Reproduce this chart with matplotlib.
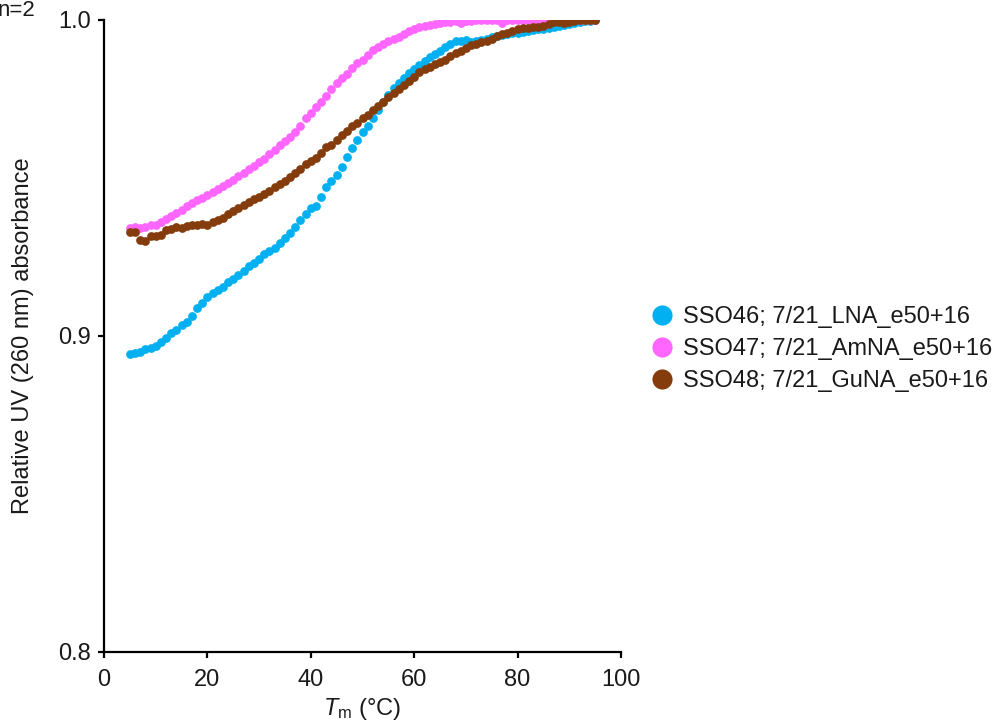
import matplotlib
matplotlib.use("Agg")
import matplotlib.pyplot as plt
import numpy as np

plt.rcParams['font.family'] = ['Liberation Sans', 'DejaVu Sans']
plt.rcParams['mathtext.fontset'] = 'custom'
plt.rcParams['mathtext.rm'] = 'Liberation Sans'
plt.rcParams['mathtext.it'] = 'Liberation Sans:italic'

temps = list(range(5, 96))

lna = [0.8943, 0.8945, 0.8950, 0.8960, 0.8962, 0.8968, 0.8980, 0.8995, 0.9010, 0.9020,
       0.9035, 0.9045, 0.9062, 0.9090, 0.9105, 0.9125, 0.9135, 0.9145, 0.9155, 0.9170,
       0.9180, 0.9192, 0.9205, 0.9220, 0.9230, 0.9245, 0.9258, 0.9268, 0.9280, 0.9293,
       0.9310, 0.9325, 0.9345, 0.9368, 0.9385, 0.9405, 0.9410, 0.9440, 0.9470, 0.9490,
       0.9510, 0.9535, 0.9565, 0.9595, 0.9620, 0.9645, 0.9665, 0.9690, 0.9715, 0.9740,
       0.9762, 0.9785, 0.9800, 0.9815, 0.9832, 0.9845, 0.9858, 0.9870, 0.9882, 0.9893,
       0.9903, 0.9915, 0.9925, 0.9932, 0.9935, 0.9936, 0.9930, 0.9935, 0.9938, 0.9940,
       0.9945, 0.9950, 0.9952, 0.9955, 0.9958, 0.9960, 0.9963, 0.9965, 0.9968, 0.9970,
       0.9973, 0.9976, 0.9978, 0.9980, 0.9983, 0.9986, 0.9990, 0.9993, 0.9996, 0.9998,
       1.0000]

amna = [0.9342, 0.9345, 0.9342, 0.9345, 0.9350, 0.9352, 0.9362, 0.9370, 0.9380, 0.9389,
        0.9400, 0.9410, 0.9420, 0.9430, 0.9438, 0.9445, 0.9455, 0.9465, 0.9475, 0.9485,
        0.9495, 0.9505, 0.9515, 0.9527, 0.9538, 0.9550, 0.9560, 0.9575, 0.9590, 0.9605,
        0.9618, 0.9630, 0.9645, 0.9665, 0.9690, 0.9705, 0.9725, 0.9740, 0.9760, 0.9782,
        0.9800, 0.9815, 0.9830, 0.9848, 0.9864, 0.9875, 0.9890, 0.9905, 0.9915, 0.9925,
        0.9932, 0.9940, 0.9946, 0.9955, 0.9965, 0.9972, 0.9978, 0.9982, 0.9985, 0.9988,
        0.9990, 0.9993, 0.9994, 0.9996, 0.9990, 0.9998, 0.9998, 1.0000, 1.0000, 1.0000,
        1.0000, 1.0000, 0.9990, 1.0000, 1.0000, 1.0000, 1.0000, 1.0000, 1.0000, 1.0000,
        1.0000, 1.0000, 1.0000, 1.0000, 1.0000, 1.0000, 1.0000, 1.0000, 1.0000, 1.0000,
        1.0000]

guna = [0.9329, 0.9328, 0.9305, 0.9302, 0.9315, 0.9318, 0.9320, 0.9335, 0.9340, 0.9345,
        0.9342, 0.9348, 0.9350, 0.9352, 0.9355, 0.9352, 0.9360, 0.9368, 0.9375, 0.9385,
        0.9395, 0.9405, 0.9415, 0.9425, 0.9432, 0.9440, 0.9448, 0.9458, 0.9470, 0.9482,
        0.9492, 0.9503, 0.9515, 0.9530, 0.9545, 0.9555, 0.9562, 0.9580, 0.9598, 0.9605,
        0.9620, 0.9635, 0.9650, 0.9663, 0.9675, 0.9690, 0.9700, 0.9715, 0.9728, 0.9742,
        0.9756, 0.9768, 0.9782, 0.9795, 0.9808, 0.9820, 0.9835, 0.9845, 0.9852, 0.9860,
        0.9867, 0.9875, 0.9885, 0.9895, 0.9902, 0.9912, 0.9920, 0.9925, 0.9930, 0.9935,
        0.9940, 0.9948, 0.9955, 0.9959, 0.9965, 0.9970, 0.9975, 0.9975, 0.9977, 0.9978,
        0.9982, 0.9988, 0.9994, 0.9995, 0.9990, 0.9995, 0.9998, 1.0000, 1.0000, 1.0000,
        1.0000]

series_labels = ["SSO46; 7/21_LNA_e50+16",
                 "SSO47; 7/21_AmNA_e50+16",
                 "SSO48; 7/21_GuNA_e50+16"]
colors = ["#00B0F0", "#FF66FF", "#843C0C"]

FS = 17
fig = plt.figure(figsize=(9.99, 7.25), dpi=100)
ax = fig.add_axes([104/999, 1-652/725, (621-104)/999, (652-20)/725])

for vals, lab, col in zip([lna, amna, guna], series_labels, colors):
    ax.plot(temps, vals, linestyle='none', marker='o', markersize=6.3,
            markeredgewidth=0, color=col, label=lab)

ax.set_xlim(0, 100)
ax.set_ylim(0.8, 1.0)
ax.set_xticks([0, 20, 40, 60, 80, 100])
ax.set_yticks([0.8, 0.9, 1.0])
ax.set_yticklabels(["0.8", "0.9", "1.0"])
for s in ['top', 'right']:
    ax.spines[s].set_visible(False)
for s in ['left', 'bottom']:
    ax.spines[s].set_linewidth(1.6)
ax.tick_params(axis='both', direction='out', length=4.5, width=1.6, labelsize=FS,
               colors='black', labelcolor='#1a1a1a')
ax.tick_params(axis='y', pad=5)
ax.tick_params(axis='x', pad=8)

ax.set_ylabel("Relative UV (260 nm) absorbance", fontsize=FS, color='#1a1a1a')
ax.yaxis.set_label_coords(-0.135, 0.5)
ax.set_xlabel(r"$\mathit{T}_{\mathrm{m}}$ (°C)", fontsize=FS, labelpad=3,
              color='#1a1a1a')

leg = ax.legend(loc='center left', bbox_to_anchor=(653/999, 1-349/725),
                bbox_transform=fig.transFigure, frameon=False, fontsize=FS,
                markerscale=2.3, handlelength=0.8, handletextpad=0.49,
                labelspacing=0.42, borderaxespad=0, borderpad=0)
for t in leg.get_texts():
    t.set_color('#1a1a1a')

fig.text(-0.0027, 1-16/725, "n=2", fontsize=16, ha='left', va='baseline',
         color='#1a1a1a')

fig.savefig("out.png", dpi=100)
